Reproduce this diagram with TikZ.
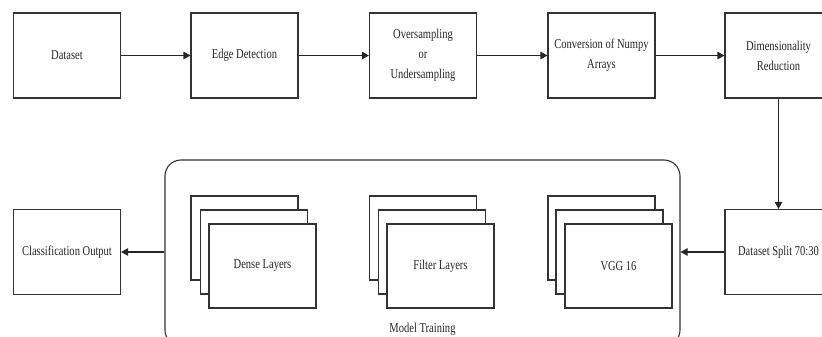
\documentclass[tikz,border=0pt]{standalone}
\usepackage{fontspec}
\setmainfont{Liberation Serif}[FakeStretch=0.78]
\usetikzlibrary{arrows.meta}
\tikzset{
  box/.style={draw=black!80, line width=1.1pt, fill=white, minimum width=107pt, minimum height=85pt, inner sep=0pt, align=center, text=black!85, font=\fontsize{13.5}{20}\selectfont},
  layer/.style={draw=black!80, line width=1.1pt, fill=white, minimum width=107pt, minimum height=84pt, inner sep=0pt, align=center, text=black!85, font=\fontsize{13.5}{20}\selectfont},
  arr/.style={draw=black!85, line width=1.1pt, -{Triangle[length=7pt,width=7.5pt]}},
  lbl/.style={text=black!85, font=\fontsize{13.5}{20}\selectfont, inner sep=0pt}
}
\begin{document}
\begin{tikzpicture}[x=1pt,y=-1pt]
\useasboundingbox (0,0) rectangle (822,337);
% top row
\node[box] (dataset) at (67,55.5) {Dataset};
\node[box] (edge) at (244.5,55.5) {Edge Detection};
\node[box] (over) at (423,55.5) {Oversampling\\or\\Undersampling};
\node[box] (conv) at (601.5,55.5) {Conversion of Numpy\\Arrays};
\node[box] (dim) at (778.5,55.5) {Dimensionality\\Reduction};
% bottom row
\node[box] (split) at (778.5,252) {Dataset Split 70:30};
\node[box] (class) at (67,252) {Classification Output};
% container
\node[draw=black!80, line width=1.1pt, rounded corners=16pt, minimum width=515pt, minimum height=186pt, inner sep=0pt] (train) at (422.5,253) {};
\node[lbl] (trainlbl) at (422.5,329) {Model Training};
% stacks
\node[layer] (d1) at (244.5,238) {};
\node[layer] (d2) at (254,252) {};
\node[layer] (d3) at (262.5,266) {Dense Layers};
\node[layer] (f1) at (423,238) {};
\node[layer] (f2) at (432,252) {};
\node[layer] (f3) at (440.5,266) {Filter Layers};
\node[layer] (v1) at (601.5,238) {};
\node[layer] (v2) at (609.5,252) {};
\node[layer] (v3) at (618.5,266) {VGG 16};
% connectors
\draw[arr] (dataset) -- (edge);
\draw[arr] (edge) -- (over);
\draw[arr] (over) -- (conv);
\draw[arr] (conv) -- (dim);
\draw[arr] (dim) -- (split);
\draw[arr] (split.west) -- (train.east |- split.west);
\draw[arr] (train.west |- class.east) -- (class.east);
\end{tikzpicture}
\end{document}
